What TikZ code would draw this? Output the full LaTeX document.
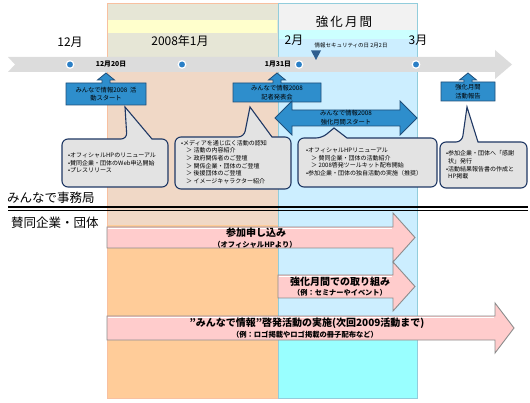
\documentclass[tikz,border=0pt]{standalone}
\usepackage{fontspec}
\setmainfont{Noto Sans CJK JP}
\definecolor{beige}{HTML}{E6E6D6}
\definecolor{paleyellow}{HTML}{FFFFCC}
\definecolor{peach}{HTML}{F0D8C6}
\definecolor{orangefill}{HTML}{FFCC99}
\definecolor{janedge}{HTML}{F8C0A0}
\definecolor{febgray}{HTML}{F2F2F2}
\definecolor{palecyan}{HTML}{CCFFFF}
\definecolor{lightblue}{HTML}{CCEEFF}
\definecolor{cyanfill}{HTML}{99FFFF}
\definecolor{febedge}{HTML}{92CDDC}
\definecolor{tlgray}{HTML}{DCDCDC}
\definecolor{boxblue}{HTML}{2E8ECC}
\definecolor{boxedge}{HTML}{1F4E79}
\definecolor{dotblue}{HTML}{2A7FC6}
\definecolor{pinkfill}{HTML}{FFCCCC}
\definecolor{arrowedge}{HTML}{8C8C8C}
\definecolor{bubblefill}{HTML}{E3E3E3}
\definecolor{bubbleedge}{HTML}{1F3864}
\definecolor{triblue}{HTML}{2F5F8F}
\begin{document}
\begin{tikzpicture}[x=1pt,y=-1pt,
  upbox/.style={fill=boxblue, draw=boxedge, line width=0.8pt},
  bubble/.style={fill=bubblefill, draw=bubbleedge, line width=1.1pt},
  pinkarrow/.style={fill=pinkfill, draw=arrowedge, line width=0.9pt},
  txt/.style={inner sep=0pt, align=center},
  boxtxt/.style={inner sep=0pt, align=center, font=\fontsize{6.3}{8.5}\selectfont},
  bubtxt/.style={inner sep=0pt, align=left, font=\fontsize{6}{7.6}\selectfont, anchor=west},
  month/.style={inner sep=0pt, font=\fontsize{12}{14}\selectfont},
  dot/.style={circle, fill=dotblue, draw=white, line width=1.2pt, minimum size=7.5pt, inner sep=0pt},
  section/.style={inner sep=0pt, anchor=west, font=\fontsize{12.5}{14}\selectfont}]
\useasboundingbox (0,0) rectangle (530,403);

% ---- January region ----
\fill[beige] (107,3) rectangle (278,57);
\fill[paleyellow] (108,20) rectangle (277,33);
\fill[peach] (107,57) rectangle (278,225);
\fill[orangefill] (107,225) rectangle (278,398);
\draw[janedge, line width=0.8pt] (107,3) rectangle (278,398);

% ---- February region ----
\fill[febgray] (278,3) rectangle (417,30);
\fill[palecyan] (278,30) rectangle (417,39);
\fill[lightblue] (278,39) rectangle (417,398);
\fill[cyanfill] (278,328) rectangle (417,398);
\draw[febedge, line width=0.8pt] (278,3) rectangle (417,398);

% ---- month labels ----
\node[month] (m12) at (70,42) {12月};
\node[month] (m1) at (180,41) {2008年1月};
\node[month] (m2) at (294,40) {2月};
\node[month] (m3) at (418,40) {3月};
\node[month, font=\fontsize{12.5}{14}\selectfont] (kyoka) at (344,22) {強\,化\,月\,間};

% ---- timeline ----
\fill[tlgray] (8,57) -- (495,57) -- (495,50) -- (512,64.5) -- (495,79) -- (495,72) -- (8,72) -- (15,64.5) -- cycle;
\node[dot] (d1) at (70,64.5) {};
\node[dot] (d2) at (182,64.5) {};
\node[dot] (d3) at (299,64.5) {};
\node[dot] (d4) at (416,64.5) {};
\node[txt, font=\fontsize{6.8}{8}\selectfont\bfseries] (dec20) at (111,64.5) {12月20日};
\node[txt, font=\fontsize{6.8}{8}\selectfont\bfseries] (jan31) at (278,64.5) {1月31日};
\node[txt, font=\fontsize{5.5}{7}\selectfont] (secday) at (351,45) {情報セキュリティの日\ 2月2日};
\fill[triblue] (311,50.5) -- (321,50.5) -- (316,60) -- cycle;

% ---- up-arrow callouts ----
\path[upbox] (66,83) -- (102,83) -- (102,80) -- (97.5,80) -- (106,73) -- (114.5,80) -- (110,80) -- (110,83) -- (146,83) -- (146,105) -- (66,105) -- cycle;
\node[boxtxt] (c1) at (106,94) {みんなで情報2008\ \ 活\\動スタート};

\path[upbox] (233,83) -- (273,83) -- (273,80) -- (268.5,80) -- (277,73) -- (285.5,80) -- (281,80) -- (281,83) -- (321,83) -- (321,102) -- (233,102) -- cycle;
\node[boxtxt] (c2) at (277,92.5) {みんなで情報2008\\記者発表会};

\path[upbox] (441,82) -- (464,82) -- (464,80) -- (459.5,80) -- (468,73) -- (476.5,80) -- (472,80) -- (472,82) -- (495,82) -- (495,101) -- (441,101) -- cycle;
\node[boxtxt] (c4) at (468,91.5) {強化月間\\活動報告};

\path[upbox] (275,118) -- (292,101) -- (292,110) -- (400,110) -- (400,101) -- (417,118) -- (400,135) -- (400,126) -- (292,126) -- (292,135) -- cycle;
\node[boxtxt] (c3) at (346,117.5) {みんなで情報2008\\強化月間スタート};

% ---- bubbles ----
\path[bubble] (62,163) [rounded corners=6] -- (62,139) -- (127,139) [sharp corners] -- (125,107) -- (152,139) [rounded corners=6] -- (168,139) -- (168,187) -- (62,187) -- cycle;
\node[bubtxt] (b1) at (68,163) {•オフィシャルHPのリニューアル\\•賛同企業・団体のWeb申込開始\\•プレスリリース};

\path[bubble] (175,163) [rounded corners=6] -- (175,137) -- (244,137) [sharp corners] -- (250,107) -- (272,137) [rounded corners=6] -- (291,137) -- (291,189) -- (175,189) -- cycle;
\node[bubtxt] (b2) at (181,162) {•メディアを通じ広く活動の認知\\\hspace{5pt}＞ 活動の内容紹介\\\hspace{5pt}＞ 政府関係者のご登壇\\\hspace{5pt}＞ 関係企業・団体のご登壇\\\hspace{5pt}＞ 後援団体のご登壇\\\hspace{5pt}＞ イメージキャラクター紹介};

\path[bubble] (298,163) [rounded corners=6] -- (298,138) -- (322,138) [sharp corners] -- (334,128) -- (347,138) [rounded corners=6] -- (437,138) -- (437,187) -- (298,187) -- cycle;
\node[bubtxt] (b3) at (306,162) {•オフィシャルHPリニューアル\\\hspace{5pt}＞ 賛同企業・団体の活動紹介\\\hspace{5pt}＞ 2008啓発ツールキット配布開始\\•参加企業・団体の独自活動の実施（推奨）};

\path[bubble] (440,165) [rounded corners=6] -- (440,142) -- (462,142) [sharp corners] -- (467,107) -- (478,142) [rounded corners=6] -- (527,142) -- (527,188) -- (440,188) -- cycle;
\node[bubtxt] (b4) at (446,165) {•参加企業・団体へ「感謝\\\hspace{2pt}状」発行\\•活動結果報告書の作成と\\\hspace{2pt}HP掲載};

% ---- section labels and divider ----
\node[section] (jimu) at (7,198) {みんなで事務局};
\draw[black, line width=1.8pt] (8,207) -- (528,207);
\draw[black, line width=0.9pt] (8,210.8) -- (528,210.8);
\node[section] (sando) at (11,223) {賛同企業・団体};

% ---- pink arrows ----
\path[pinkarrow] (107,227) -- (393,227) -- (393,213) -- (415,237.5) -- (393,262) -- (393,248) -- (107,248) -- cycle;
\draw[white, line width=1pt] (108,228.3) -- (392,228.3);
\node[txt, font=\fontsize{10}{12}\selectfont\bfseries] (p1a) at (256,233) {参加申し込み};
\node[txt, font=\fontsize{7.3}{9}\selectfont\bfseries] (p1b) at (255,244.5) {（オフィシャルHPより）};

\path[pinkarrow] (278,275) -- (393,275) -- (393,262) -- (415,286.5) -- (393,311) -- (393,298) -- (278,298) -- cycle;
\draw[white, line width=1pt] (279,276.3) -- (392,276.3);
\node[txt, font=\fontsize{10}{12}\selectfont\bfseries] (p2a) at (340,281.5) {強化月間での取り組み};
\node[txt, font=\fontsize{7.2}{9}\selectfont\bfseries] (p2b) at (340,293) {（例：セミナーやイベント）};

\path[pinkarrow] (107,316) -- (495,316) -- (495,303) -- (514,328) -- (495,353) -- (495,340) -- (107,340) -- cycle;
\draw[white, line width=1pt] (108,317.3) -- (494,317.3);
\node[txt, font=\fontsize{10}{12}\selectfont\bfseries] (p3a) at (307,323) {”みんなで情報”啓発活動の実施(次回2009活動まで)};
\node[txt, font=\fontsize{7.3}{9}\selectfont\bfseries] (p3b) at (305,334.5) {（例：ロゴ掲載やロゴ掲載の冊子配布など）};
\end{tikzpicture}
\end{document}
